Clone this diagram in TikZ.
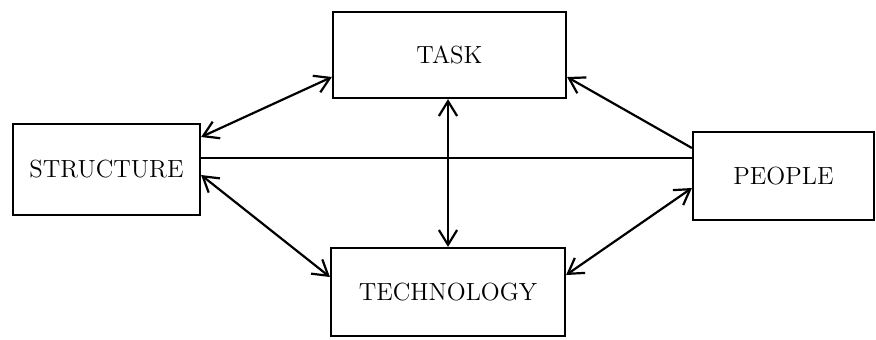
\documentclass[tikz,border=0pt]{standalone}
\usepackage{tikz}
\usetikzlibrary{arrows.meta}

\begin{document}
\begin{tikzpicture}[x=0.5pt,y=-0.5pt,>={Straight Barb[length=2.6mm,width=3.2mm]},
                    line width=1.1pt,
                    block/.style={draw,rectangle,inner sep=0pt,
                                  font=\fontsize{12.4}{14}\selectfont}]
  \useasboundingbox (0,0) rectangle (876,339);

  \node[block,minimum width=93.5pt,minimum height=45.5pt] (S)    at (106.5,169.5) {STRUCTURE};
  \node[block,minimum width=116.5pt,minimum height=43pt]  (T)    at (449.5,55)    {TASK};
  \node[block,minimum width=90.5pt,minimum height=44pt]   (P)    at (783.5,176)   {PEOPLE};
  \node[block,minimum width=117pt,minimum height=44pt]    (Tech) at (448,292)     {TECHNOLOGY};

  \path ([yshift=5.75pt]S.east)  edge          ([yshift=9pt]P.west)
        ([yshift=16.25pt]S.east) edge[<->]     ([yshift=-11pt]T.west)
        ([yshift=-2.75pt]S.east) edge[<->]     ([yshift=7.5pt]Tech.west)
        (Tech.north |- T.south)  edge[<->]     (Tech.north)
        ([yshift=14pt]P.west)    edge[->]      ([yshift=-11pt]T.east)
        ([yshift=-6pt]P.west)    edge[<->]     ([yshift=8.5pt]Tech.east);
\end{tikzpicture}
\end{document}
